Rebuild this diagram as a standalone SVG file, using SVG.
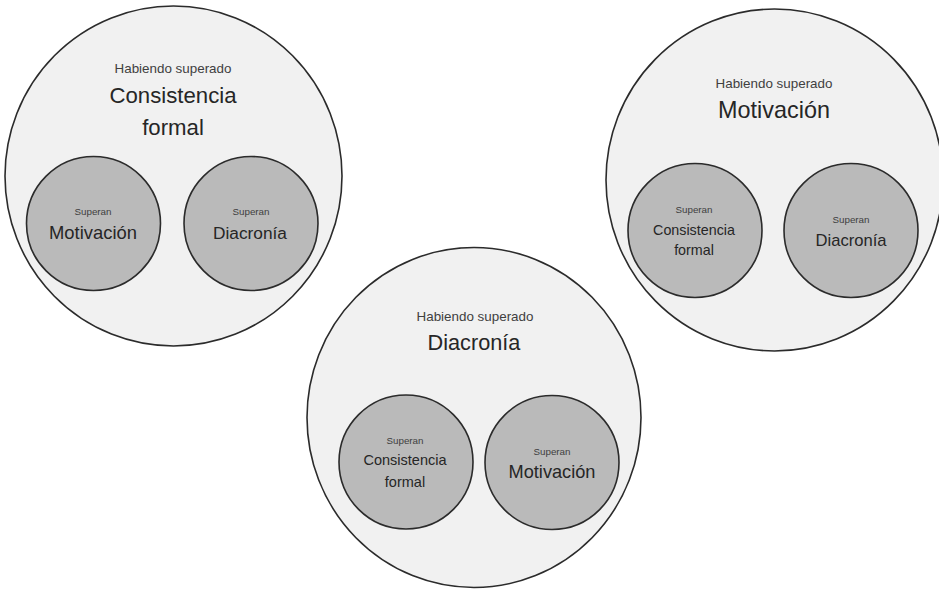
<svg xmlns="http://www.w3.org/2000/svg" width="939" height="591" viewBox="0 0 939 591">
<style>
.outer{fill:#f1f1f1;stroke:#2b2b2b;stroke-width:1.6}
.inner{fill:#bababa;stroke:#2b2b2b;stroke-width:1.6}
text{font-family:"Liberation Sans",Arial,sans-serif;text-anchor:middle}
.hab{font-size:13.4px;fill:#404040}
.sup{font-size:9.8px;fill:#404040}
.main{fill:#262626}
</style>
<rect width="939" height="591" fill="#ffffff"/>
<g id="connectors"/>
<g id="node-consistencia">
<ellipse class="outer" cx="173.5" cy="176" rx="168.5" ry="170"/>
<text class="hab" x="173" y="73">Habiendo superado</text>
<text class="main" x="173" y="103" font-size="22.2">Consistencia</text>
<text class="main" x="173" y="135" font-size="22.2">formal</text>
<g id="node-consistencia-motivacion">
<circle class="inner" cx="93.5" cy="223.5" r="67"/>
<text class="sup" x="93" y="215">Superan</text>
<text class="main" x="93" y="239" font-size="18.4">Motivación</text>
</g>
<g id="node-consistencia-diacronia">
<circle class="inner" cx="251" cy="223.5" r="67"/>
<text class="sup" x="251" y="215">Superan</text>
<text class="main" x="250" y="239" font-size="17.3">Diacronía</text>
</g>
</g>
<g id="node-motivacion">
<ellipse class="outer" cx="774.5" cy="180" rx="168.5" ry="171"/>
<text class="hab" x="774" y="88">Habiendo superado</text>
<text class="main" x="774" y="118" font-size="23.4">Motivación</text>
<g id="node-motivacion-consistencia">
<circle class="inner" cx="695" cy="230.5" r="67"/>
<text class="sup" x="694" y="213">Superan</text>
<text class="main" x="694" y="235" font-size="14.3">Consistencia</text>
<text class="main" x="694" y="255" font-size="14.3">formal</text>
</g>
<g id="node-motivacion-diacronia">
<circle class="inner" cx="851" cy="230.5" r="67"/>
<text class="sup" x="851" y="223">Superan</text>
<text class="main" x="851" y="246" font-size="16.6">Diacronía</text>
</g>
</g>
<g id="node-diacronia">
<ellipse class="outer" cx="474" cy="417.5" rx="167" ry="170"/>
<text class="hab" x="475" y="321">Habiendo superado</text>
<text class="main" x="474" y="350" font-size="21.7">Diacronía</text>
<g id="node-diacronia-consistencia">
<circle class="inner" cx="406" cy="462" r="67"/>
<text class="sup" x="405" y="444">Superan</text>
<text class="main" x="405" y="465" font-size="14.5">Consistencia</text>
<text class="main" x="405" y="487" font-size="14.5">formal</text>
</g>
<g id="node-diacronia-motivacion">
<circle class="inner" cx="552" cy="462.5" r="67"/>
<text class="sup" x="552" y="455">Superan</text>
<text class="main" x="552" y="478" font-size="18.2">Motivación</text>
</g>
</g>
</svg>
